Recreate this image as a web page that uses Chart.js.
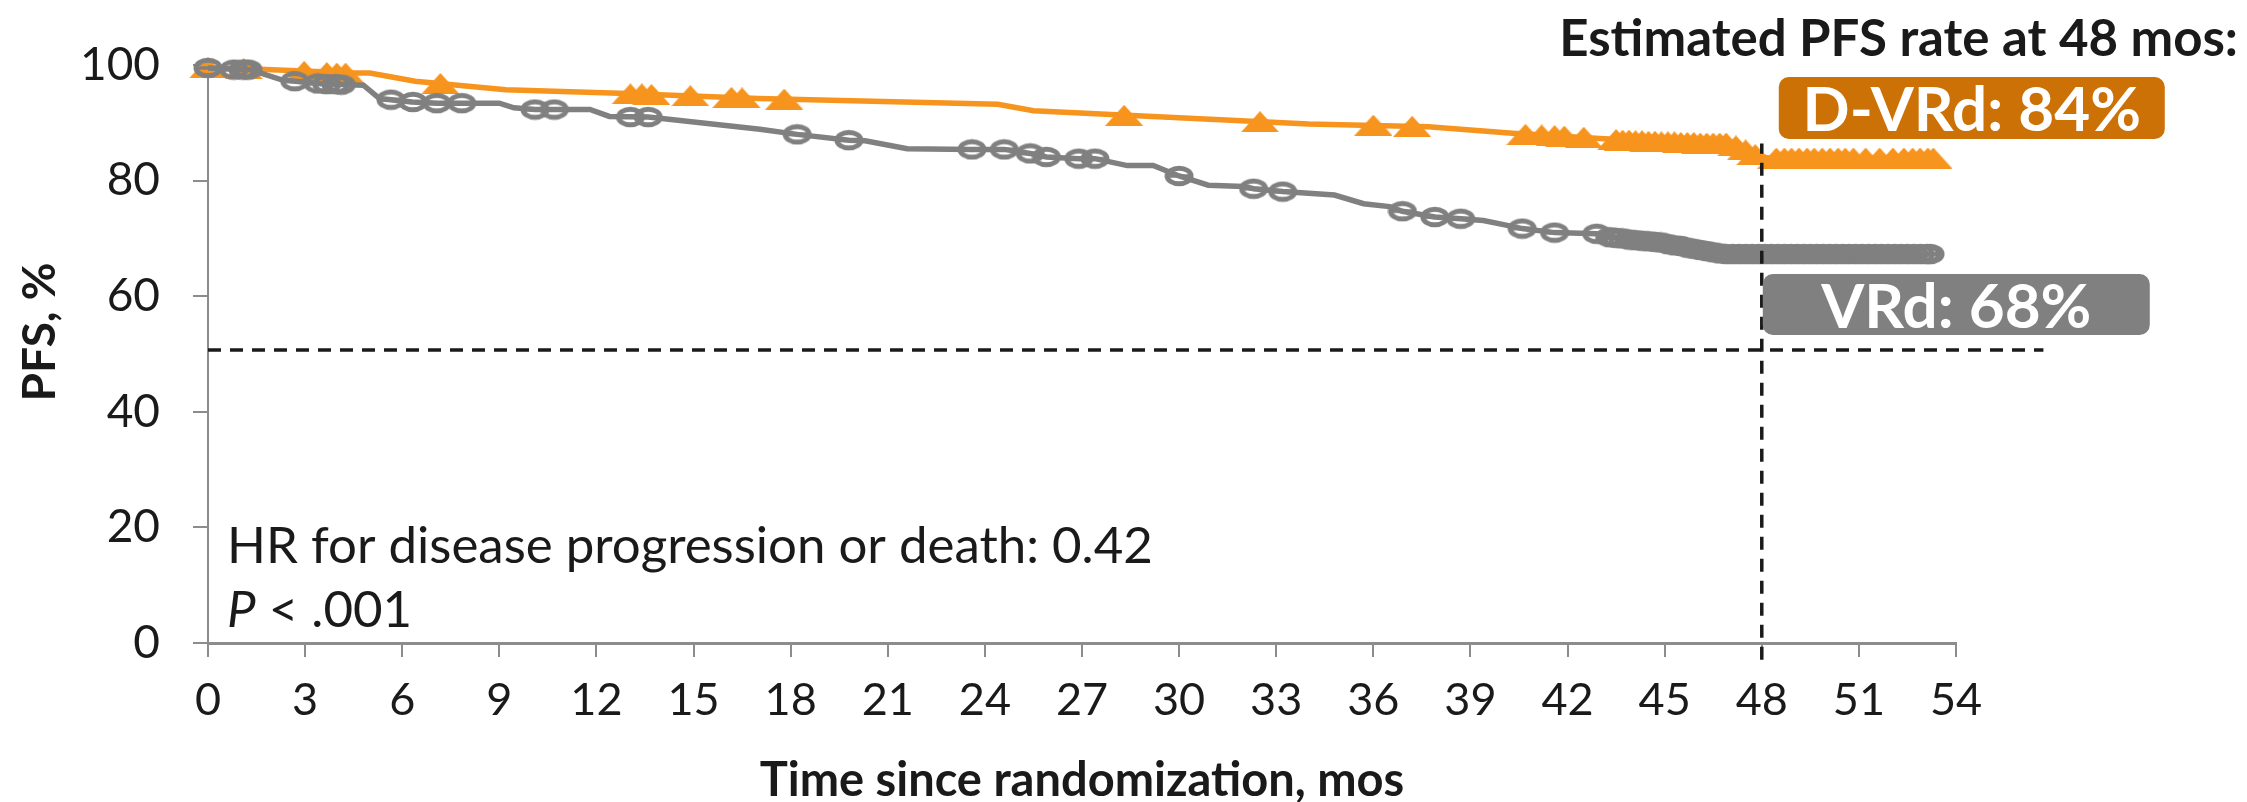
<!DOCTYPE html>
<html lang="en">
<head>
<meta charset="UTF-8">
<title>PFS D-VRd vs VRd</title>
<script src="https://cdn.jsdelivr.net/npm/chart.js@4.4.1/dist/chart.umd.min.js"></script>
<style>
  body { margin: 0; background: #fff; }
  canvas { display: block; }
</style>
</head>
<body>
<canvas id="grafico" width="2247" height="802"></canvas>
<script>
// ejes
const xTicks = [0, 3, 6, 9, 12, 15, 18, 21, 24, 27, 30, 33, 36, 39, 42, 45, 48, 51, 54]
const yTicks = [0, 20, 40, 60, 80, 100]

// D-VRd: curva
const dvrdTime = [0, 1.4, 4.5, 5.0, 6.4, 9.2, 12.7, 17.0, 24.4, 25.5, 34.0, 37.7, 40.3, 43.0, 45.0, 47.0, 47.3, 47.6, 47.9, 48.2, 53.3]
const dvrdPfs = [99.5, 99.3, 98.6, 98.6, 97.2, 95.7, 95.1, 94.2, 93.2, 92.1, 89.8, 89.3, 88.2, 87.3, 86.7, 86.5, 85.9, 85.2, 84.3, 83.9, 83.9]
// D-VRd: censurados
const dvrdCensTime = [0, 1.1, 2.97, 3.67, 3.98, 4.25, 7.18, 13.05, 13.4, 13.7, 14.9, 16.17, 16.5, 17.8, 28.3, 32.5, 36.0, 37.2,
  40.7, 41.2, 41.6, 41.9, 42.5, 43.5, 43.7, 43.9, 44.1, 44.3, 44.5, 44.7, 44.9, 45.1, 45.3, 45.5, 45.7, 45.9, 46.1, 46.3, 46.5, 46.7, 46.9,
  47.2, 47.5, 47.8, 48.45, 48.7, 48.92, 49.15, 49.4, 49.62, 49.87, 50.11, 50.36, 50.58, 50.83, 51.21, 51.64, 52.05, 52.39, 52.66, 52.89, 53.13, 53.3]
const dvrdCensPfs = [99.5, 99.4, 98.9, 98.7, 98.6, 98.6, 96.8, 95.0, 95.0, 94.9, 94.7, 94.4, 94.3, 94.1, 91.3, 90.2, 89.6, 89.4,
  88.0, 87.9, 87.8, 87.7, 87.5, 87.1, 87.0, 87.0, 86.9, 86.9, 86.8, 86.8, 86.7, 86.7, 86.7, 86.6, 86.6, 86.6, 86.5, 86.5, 86.5, 86.5, 86.5,
  86.0, 85.3, 84.5, 83.9, 83.9, 83.9, 83.9, 83.9, 83.9, 83.9, 83.9, 83.9, 83.9, 83.9, 83.9, 83.9, 83.9, 83.9, 83.9, 83.9, 83.9, 83.9]

// VRd: curva
const vrdTime = [0, 1.3, 2.3, 2.7, 3.4, 4.8, 5.3, 6.3, 7.1, 9.0, 9.45, 10.1, 11.8, 12.4, 13.6, 17.05, 18.2, 19.8, 20.3, 21.6, 23.6, 24.6,
  25.4, 25.9, 26.9, 27.4, 28.4, 29.2, 30.0, 30.9, 32.0, 32.3, 33.2, 34.8, 35.7, 36.5, 36.9, 37.9, 38.7, 39.4, 40.1, 40.6, 41.6, 42.9,
  43.2, 44.8, 46.0, 46.7, 53.2]
const vrdPfs = [99.5, 99.2, 97.4, 97.2, 96.8, 96.5, 94.2, 93.6, 93.4, 93.4, 92.6, 92.3, 92.3, 91.1, 91.0, 88.9, 88.0, 87.0, 86.9, 85.5, 85.4, 85.4,
  84.7, 84.1, 83.8, 83.8, 82.6, 82.6, 80.8, 79.2, 79.0, 78.6, 78.1, 77.5, 76.0, 75.5, 74.7, 73.7, 73.4, 73.1, 72.3, 71.7, 71.0, 70.8,
  70.3, 69.3, 68.1, 67.4, 67.3]
// VRd: censurados
const vrdCensTime = [0, 0.8, 1.08, 1.24, 2.68, 3.4, 3.67, 3.95, 4.12, 5.65, 6.33, 7.07, 7.84, 10.1, 10.7, 13.05, 13.6, 18.2, 19.8,
  23.6, 24.6, 25.4, 25.9, 26.9, 27.4, 30.0, 32.3, 33.2, 36.9, 37.9, 38.7, 40.6, 41.6, 42.9,
  43.3, 43.5, 43.7, 43.9, 44.1, 44.3, 44.5, 44.7, 44.9, 45.1, 45.3, 45.5, 45.7, 45.9, 46.1, 46.3, 46.5, 46.7, 46.9,
  47.1, 47.3, 47.5, 47.7, 47.9, 48.1, 48.3, 48.5, 48.7, 48.9, 49.1, 49.3, 49.5, 49.7, 49.9, 50.1, 50.3, 50.5, 50.7, 50.9,
  51.1, 51.3, 51.5, 51.7, 51.9, 52.1, 52.3, 52.5, 52.7, 52.9, 53.1, 53.2]
const vrdCensPfs = [99.5, 99.2, 99.2, 99.2, 97.2, 96.8, 96.7, 96.7, 96.6, 94.0, 93.6, 93.4, 93.4, 92.3, 92.3, 91.0, 91.0, 88.0, 87.0,
  85.4, 85.4, 84.7, 84.1, 83.8, 83.8, 80.8, 78.6, 78.1, 74.7, 73.7, 73.4, 71.7, 71.0, 70.8,
  70.2, 70.1, 70.0, 69.8, 69.7, 69.6, 69.5, 69.4, 69.3, 69.0, 68.8, 68.7, 68.4, 68.2, 68.0, 67.8, 67.6, 67.4, 67.3,
  67.3, 67.3, 67.3, 67.3, 67.3, 67.3, 67.3, 67.3, 67.3, 67.3, 67.3, 67.3, 67.3, 67.3, 67.3, 67.3, 67.3, 67.3, 67.3, 67.3,
  67.3, 67.3, 67.3, 67.3, 67.3, 67.3, 67.3, 67.3, 67.3, 67.3, 67.3, 67.3]

// lineas de referencia (mediana y 48 meses)
const medianX = [0, 56.7]
const medianY = [50.7, 50.7]
const mes48X = [48, 48]
const mes48Y = [-2.9, 86.4]

const naranja = "#F7941D"
const naranjaOscuro = "#CC7106"
const gris = "#808080"
const negro = "#1a1a1a"
const fuente = "Lato"

const puntos = (xs, ys) => xs.map((x, i) => ({ x: x, y: ys[i] }))

function triangulo(color) {
    let c = document.createElement("canvas")
    c.width = 38
    c.height = 21
    let ctx = c.getContext("2d")
    ctx.fillStyle = color
    ctx.beginPath()
    ctx.moveTo(19, 0)
    ctx.lineTo(38, 21)
    ctx.lineTo(0, 21)
    ctx.closePath()
    ctx.fill()
    return c
}

function circulo(color) {
    let c = document.createElement("canvas")
    c.width = 30
    c.height = 22
    let ctx = c.getContext("2d")
    ctx.strokeStyle = color
    ctx.lineWidth = 5
    ctx.beginPath()
    ctx.ellipse(15, 11, 12, 7.8, 0, 0, Math.PI * 2)
    ctx.stroke()
    ctx.lineWidth = 3.5
    ctx.beginPath()
    ctx.moveTo(4, 11)
    ctx.lineTo(26, 11)
    ctx.stroke()
    return c
}

const textos = {
    id: "textos",
    afterDraw(chart) {
        const ctx = chart.ctx
        const area = chart.chartArea
        const x = chart.scales.x
        ctx.save()
        ctx.fillStyle = negro
        ctx.textBaseline = "alphabetic"

        // titulo superior
        ctx.font = "bold 51px " + fuente
        ctx.textAlign = "right"
        ctx.fillText("Estimated PFS rate at 48 mos:", 2238, 56)

        // titulo eje x
        ctx.font = "bold 47px " + fuente
        ctx.textAlign = "center"
        ctx.fillText("Time since randomization, mos", (area.left + area.right) / 2, 796)

        // titulo eje y
        ctx.font = "bold 46px " + fuente
        ctx.save()
        ctx.translate(55, 332)
        ctx.rotate(-Math.PI / 2)
        ctx.fillText("PFS, %", 0, 0)
        ctx.restore()

        // HR
        ctx.textAlign = "left"
        ctx.font = "51px " + fuente
        ctx.fillText("HR for disease progression or death: 0.42", 227, 563)
        ctx.font = "italic 51px " + fuente
        ctx.fillText("P", 227, 627)
        let anchoP = ctx.measureText("P").width
        ctx.font = "51px " + fuente
        ctx.fillText(" < .001", 227 + anchoP, 627)

        // cajas
        const x48 = x.getPixelForValue(48)
        const cajas = [
            { texto: "D-VRd: 84%", color: naranjaOscuro, left: x48 + 17, top: 77, w: 386, h: 62, base: 131 },
            { texto: "VRd: 68%", color: gris, left: x48 + 1, top: 274, w: 387, h: 61, base: 328 }
        ]
        cajas.forEach(c => {
            ctx.fillStyle = c.color
            ctx.beginPath()
            ctx.roundRect(c.left, c.top, c.w, c.h, 10)
            ctx.fill()
            ctx.fillStyle = "#fff"
            ctx.font = "bold 62px " + fuente
            ctx.textAlign = "center"
            ctx.fillText(c.texto, c.left + c.w / 2, c.base)
        })
        ctx.restore()
    }
}

let canvaDom = document.querySelector("#grafico")

new Chart(canvaDom, {
    type: "line",
    data: {
        datasets: [
            {
                label: "mediana",
                data: puntos(medianX, medianY),
                borderColor: negro,
                borderWidth: 3.5,
                borderDash: [13, 9],
                pointRadius: 0,
                clip: false,
                order: 0
            },
            {
                label: "48 meses",
                data: puntos(mes48X, mes48Y),
                borderColor: negro,
                borderWidth: 3.5,
                borderDash: [13, 9],
                pointRadius: 0,
                clip: false,
                order: 0
            },
            {
                label: "VRd censurados",
                data: puntos(vrdCensTime, vrdCensPfs),
                showLine: false,
                pointStyle: circulo(gris),
                pointRadius: 10,
                clip: false,
                order: 1
            },
            {
                label: "VRd",
                data: puntos(vrdTime, vrdPfs),
                borderColor: gris,
                borderWidth: 5.5,
                pointRadius: 0,
                tension: 0,
                order: 2
            },
            {
                label: "D-VRd censurados",
                data: puntos(dvrdCensTime, dvrdCensPfs),
                showLine: false,
                pointStyle: triangulo(naranja),
                pointRadius: 10,
                clip: false,
                order: 3
            },
            {
                label: "D-VRd",
                data: puntos(dvrdTime, dvrdPfs),
                borderColor: naranja,
                borderWidth: 5.5,
                pointRadius: 0,
                tension: 0,
                order: 4
            }
        ]
    },
    options: {
        responsive: false,
        animation: false,
        devicePixelRatio: 1,
        layout: { padding: { top: 65, right: 291, left: 0, bottom: 0 } },
        plugins: { legend: { display: false }, tooltip: { enabled: false } },
        scales: {
            x: {
                type: "linear",
                min: 0,
                max: 54,
                afterBuildTicks: s => { s.ticks = xTicks.map(v => ({ value: v })) },
                afterFit: s => { s.height = 159 },
                grid: { drawOnChartArea: false, tickLength: 14, color: "#8c8c8c", lineWidth: 2 },
                border: { display: true, color: "#8c8c8c", width: 3 },
                ticks: { font: { family: fuente, size: 45 }, color: negro, padding: 16, maxRotation: 0, autoSkip: false }
            },
            y: {
                min: 0,
                max: 100,
                afterBuildTicks: s => { s.ticks = yTicks.map(v => ({ value: v })) },
                afterFit: s => { s.width = 208 },
                grid: { drawOnChartArea: false, tickLength: 15, color: "#8c8c8c", lineWidth: 2 },
                border: { display: true, color: "#8c8c8c", width: 2 },
                ticks: { font: { family: fuente, size: 46 }, color: negro, padding: 33 }
            }
        }
    },
    plugins: [textos]
})
</script>
</body>
</html>
